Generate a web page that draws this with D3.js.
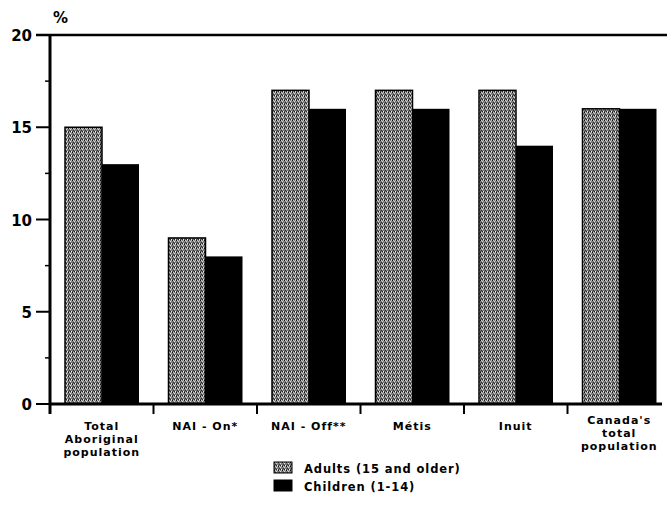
<!DOCTYPE html>
<html><head><meta charset="utf-8">
<script src="https://cdn.jsdelivr.net/npm/d3@7"></script>
<style>body{margin:0;background:#fff}svg{display:block}text{font-family:"DejaVu Sans",sans-serif;font-weight:bold;fill:#000}</style>
</head><body><svg id="c" width="667" height="506"></svg>
<script>
const categories = [["Total","Aboriginal","population"],["NAI - On*"],["NAI - Off**"],["Métis"],["Inuit"],["Canada's","total","population"]];
const adults = [15, 9, 17, 17, 17, 16];
const children = [13, 8, 16, 16, 14, 16];
const yTicks = [0, 5, 10, 15, 20];
const seriesNames = ["Adults (15 and older)", "Children (1-14)"];

const svg = d3.select("#c");
const defs = svg.append("defs");
const pat = defs.append("pattern").attr("id","stip").attr("width",4).attr("height",4).attr("patternUnits","userSpaceOnUse");
pat.append("rect").attr("width",4).attr("height",4).attr("fill","#7a7a7a");
[[0,0,"#111"],[2,1,"#e0e0e0"],[1,2,"#333"],[3,3,"#f0f0f0"],[3,0,"#bbb"],[0,3,"#444"],[1,0,"#ccc"],[2,3,"#222"]].forEach(([x,y,c])=>pat.append("rect").attr("x",x).attr("y",y).attr("width",1).attr("height",1).attr("fill",c));

const x0 = 50, bandW = 103.5;
const x = d3.scaleBand().domain(d3.range(categories.length)).range([x0, x0 + bandW*categories.length]).paddingInner(0).paddingOuter(0);
const y = d3.scaleLinear().domain([0,20]).range([404,35]);
const xs = d3.scaleBand().domain([0,1]).range([15, bandW-14.5]);

const g = svg.append("g");
categories.forEach((c,i)=>{
  g.append("rect").attr("x",x(i)+xs(0)).attr("y",y(adults[i])).attr("width",xs.bandwidth()).attr("height",y(0)-y(adults[i]))
    .attr("fill","url(#stip)").attr("stroke","#000").attr("stroke-width",1.5);
  g.append("rect").attr("x",x(i)+xs(1)).attr("y",y(children[i])).attr("width",xs.bandwidth()).attr("height",y(0)-y(children[i]))
    .attr("fill","#000");
});

// axes lines
svg.append("line").attr("x1",36).attr("x2",667).attr("y1",y(20)).attr("y2",y(20)).attr("stroke","#000").attr("stroke-width",2.5);
svg.append("line").attr("x1",x0).attr("x2",x0).attr("y1",y(20)).attr("y2",y(0)+10).attr("stroke","#000").attr("stroke-width",3);
svg.append("line").attr("x1",x0).attr("x2",662).attr("y1",y(0)).attr("y2",y(0)).attr("stroke","#000").attr("stroke-width",3);

// y ticks
yTicks.forEach(t=>{
  svg.append("line").attr("x1",36).attr("x2",x0).attr("y1",y(t)).attr("y2",y(t)).attr("stroke","#000").attr("stroke-width",2);
  svg.append("text").attr("x",32).attr("y",y(t)+6).attr("text-anchor","end").attr("font-size",15).text(t);
  if (t<20) svg.append("line").attr("x1",45).attr("x2",x0).attr("y1",y(t+2.5)).attr("y2",y(t+2.5)).attr("stroke","#000").attr("stroke-width",1.5);
});
svg.append("text").attr("x",53).attr("y",23).attr("font-size",15).text("%");

// x ticks
d3.range(1,categories.length).forEach(i=>{
  svg.append("line").attr("x1",x(i)).attr("x2",x(i)).attr("y1",y(0)).attr("y2",y(0)+10).attr("stroke","#000").attr("stroke-width",2);
});
categories.forEach((c,i)=>{
  const cx = x(i)+bandW/2;
  const t = svg.append("text").attr("x",cx).attr("y",i===categories.length-1?424:430).attr("text-anchor","middle").attr("font-size",11).attr("letter-spacing",1);
  c.forEach((l,j)=>t.append("tspan").attr("x",cx).attr("dy",j?12.8:0).text(l));
});

// legend
const lg = svg.append("g").attr("transform","translate(274,462)");
seriesNames.forEach((s,i)=>{
  lg.append("rect").attr("x",0).attr("y",i*18).attr("width",18).attr("height",11).attr("fill",i?"#000":"url(#stip)").attr("stroke","#000").attr("stroke-width",1);
  lg.append("text").attr("x",30).attr("y",i*18+10.5).attr("font-size",11.5).attr("letter-spacing",0.9).text(s);
});
</script></body></html>
